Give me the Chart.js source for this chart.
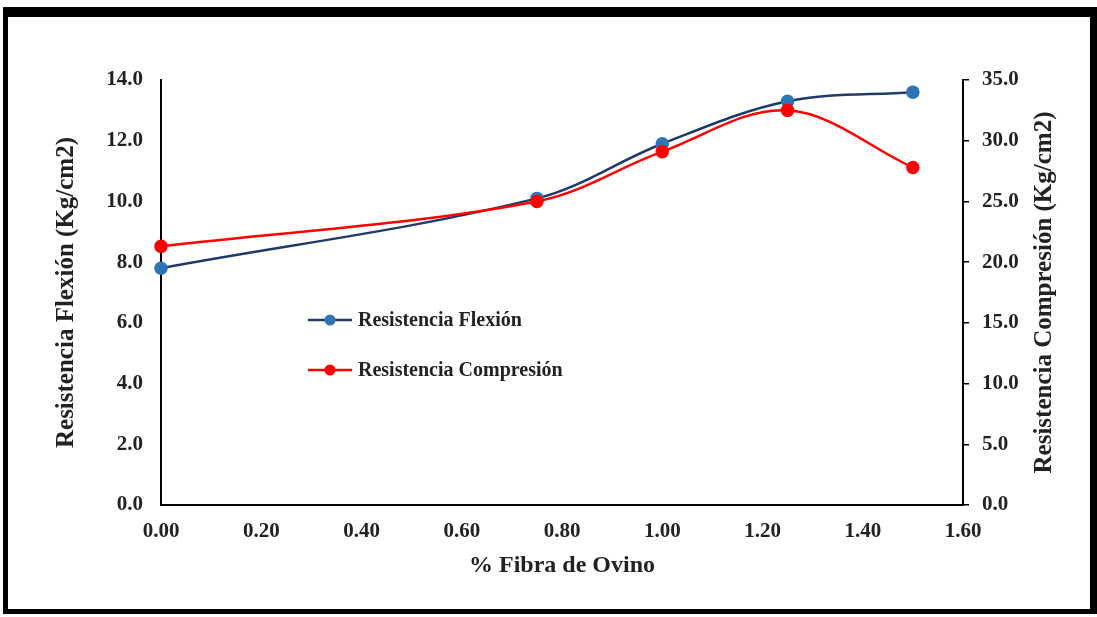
<!DOCTYPE html>
<html>
<head>
<meta charset="utf-8">
<script src="https://cdn.jsdelivr.net/npm/chart.js@4/dist/chart.umd.min.js"></script>
<style>
  html, body { margin: 0; padding: 0; background: #ffffff; }
  #frame { position: absolute; left: 3px; top: 7px; width: 1082px; height: 592px;
           border-top: 10px solid #000; border-left: 5px solid #000; border-right: 7px solid #000; border-bottom: 5px solid #000;
           background: #fff; }
  #wrap { position: absolute; left: 0; top: 0; width: 1097px; height: 617px; }
</style>
</head>
<body>
<div id="frame"></div>
<div id="wrap"><canvas id="c" width="1097" height="617"></canvas></div>
<script>
const fibra = [0.00, 0.75, 1.00, 1.25, 1.50];
const flexion = [7.8, 10.1, 11.9, 13.3, 13.6];
const compresion = [21.3, 25.0, 29.1, 32.5, 27.8];
const seriesNames = ['Resistencia Flexión', 'Resistencia Compresión'];
const xTitle = '% Fibra de Ovino';
const yLeftTitle = 'Resistencia Flexión (Kg/cm2)';
const yRightTitle = 'Resistencia Compresión (Kg/cm2)';

const FONT = "'Liberation Serif', 'Times New Roman', serif";
const BLUE_LINE = '#1F3A68';
const BLUE_PT = '#2E75B6';
const RED = '#FF0000';
const TEXT = '#222';

const customLegend = {
  id: 'customLegend',
  afterDraw(chart) {
    const ctx = chart.ctx;
    const items = [
      { text: chart.data.datasets[0].label, line: BLUE_LINE, pt: BLUE_PT, y: 320 },
      { text: chart.data.datasets[1].label, line: RED, pt: RED, y: 370 }
    ];
    ctx.save();
    items.forEach(it => {
      ctx.strokeStyle = it.line;
      ctx.lineWidth = 2.5;
      ctx.beginPath();
      ctx.moveTo(308, it.y);
      ctx.lineTo(352, it.y);
      ctx.stroke();
      ctx.fillStyle = it.pt;
      ctx.beginPath();
      ctx.arc(330, it.y, 5.5, 0, Math.PI * 2);
      ctx.fill();
      ctx.fillStyle = TEXT;
      ctx.font = "bold 20px " + FONT;
      ctx.textBaseline = 'middle';
      ctx.textAlign = 'left';
      ctx.fillText(it.text, 358, it.y + 1);
    });
    // right axis title, reading bottom to top
    const a = chart.chartArea;
    ctx.translate(1045, (a.top + a.bottom) / 2);
    ctx.rotate(-Math.PI / 2);
    ctx.font = "bold 25px " + FONT;
    ctx.textAlign = 'center';
    ctx.textBaseline = 'middle';
    ctx.fillStyle = TEXT;
    ctx.fillText(yRightTitle, 0, 0);
    ctx.restore();
  }
};

new Chart(document.getElementById('c'), {
  type: 'line',
  data: {
    datasets: [
      {
        label: seriesNames[0],
        data: fibra.map((x, i) => ({ x: x, y: flexion[i] })),
        yAxisID: 'y',
        borderColor: BLUE_LINE,
        backgroundColor: BLUE_PT,
        pointBackgroundColor: BLUE_PT,
        pointBorderColor: BLUE_PT,
        pointRadius: 5.5,
        borderWidth: 2.5,
        tension: 0.35,
        clip: false,
        order: 1
      },
      {
        label: seriesNames[1],
        data: fibra.map((x, i) => ({ x: x, y: compresion[i] })),
        yAxisID: 'y1',
        borderColor: RED,
        backgroundColor: RED,
        pointBackgroundColor: RED,
        pointBorderColor: RED,
        pointRadius: 5.5,
        borderWidth: 2.5,
        tension: 0.35,
        clip: false,
        order: 0
      }
    ]
  },
  options: {
    responsive: false,
    animation: false,
    layout: { padding: { top: 80, left: 0, right: 0, bottom: 0 } },
    plugins: { legend: { display: false }, tooltip: { enabled: false } },
    scales: {
      x: {
        type: 'linear',
        min: 0, max: 1.6,
        afterFit: s => { s.height = 112; },
        afterBuildTicks: s => { s.ticks = [0,0.2,0.4,0.6,0.8,1.0,1.2,1.4,1.6].map(v => ({ value: v })); },
        ticks: { callback: v => Number(v).toFixed(2), color: TEXT, font: { family: FONT, size: 21, weight: 'bold' }, padding: 14, maxRotation: 0 },
        grid: { display: false, drawTicks: false },
        border: { display: true, color: '#000', width: 2 },
        title: { display: true, text: xTitle, color: TEXT, font: { family: FONT, size: 24, weight: 'bold' }, padding: { top: 0, bottom: 37 } }
      },
      y: {
        position: 'left',
        min: 0, max: 14,
        afterFit: s => { s.width = 161; },
        ticks: { stepSize: 2, callback: v => Number(v).toFixed(1), color: TEXT, font: { family: FONT, size: 21, weight: 'bold' }, padding: 18 },
        grid: { display: false, drawTicks: false },
        border: { display: true, color: '#000', width: 2 },
        title: { display: true, text: yLeftTitle, color: TEXT, font: { family: FONT, size: 25, weight: 'bold' }, padding: { top: 52, bottom: 0 } }
      },
      y1: {
        position: 'right',
        min: 0, max: 35,
        afterFit: s => { s.width = 134; },
        ticks: { stepSize: 5, callback: v => Number(v).toFixed(1), color: TEXT, font: { family: FONT, size: 21, weight: 'bold' }, padding: 13 },
        grid: { display: true, drawOnChartArea: false, drawTicks: true, tickLength: 6, color: '#000', lineWidth: 1.5 },
        border: { display: true, color: '#000', width: 2 },
        title: { display: false }
      }
    }
  },
  plugins: [customLegend]
});
</script>
</body>
</html>
